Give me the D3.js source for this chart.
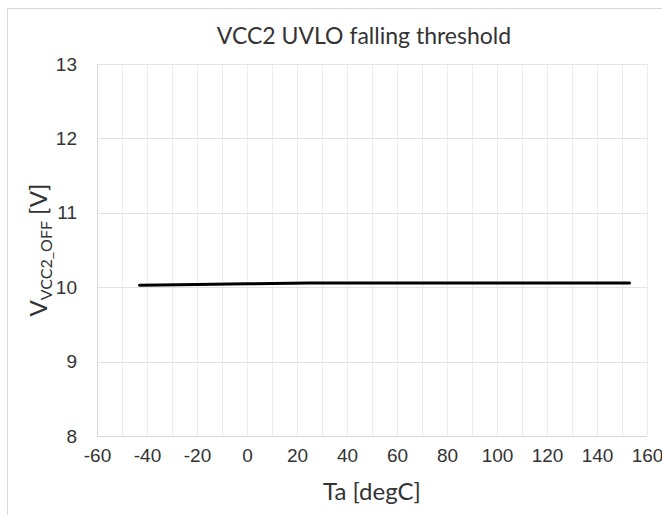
<!DOCTYPE html>
<html>
<head>
<meta charset="utf-8">
<script src="https://cdn.jsdelivr.net/npm/d3@7"></script>
<style>
  body { margin: 0; background: #fff; }
  svg { display: block; font-family: Lato, "Open Sans", sans-serif; }
</style>
</head>
<body>
<div id="chart"></div>
<script>
var temps = [-43, -20, 0, 25, 60, 100, 153];
var vOff = [10.025, 10.035, 10.045, 10.055, 10.055, 10.055, 10.055];
var xTicks = [-60, -40, -20, 0, 20, 40, 60, 80, 100, 120, 140, 160];
var xMinor = d3.range(-60, 161, 10);
var yTicks = [8, 9, 10, 11, 12, 13];

var width = 662, height = 515;
var margin = { top: 64, left: 97, right: 15, bottom: 79 };

var svg = d3.select("#chart").append("svg")
            .attr("width", width)
            .attr("height", height);

// outer chart border (runs off the picture on the right and bottom)
svg.append("rect")
   .attr("x", 7.5).attr("y", 8.5)
   .attr("width", 700).attr("height", 600)
   .attr("fill", "none")
   .attr("stroke", "#d9d9d9");

var x = d3.scaleLinear().domain([-60, 160]).range([margin.left, width - margin.right]);
var y = d3.scaleLinear().domain([8, 13]).range([height - margin.bottom, margin.top]);

var g = svg.append("g");

g.selectAll("line.vgrid")
  .data(xMinor)
  .enter().append("line")
  .attr("class", "vgrid")
  .attr("x1", d => Math.round(x(d)) + 0.5).attr("x2", d => Math.round(x(d)) + 0.5)
  .attr("y1", y(13)).attr("y2", y(8))
  .attr("stroke", "#ececec");

g.selectAll("line.hgrid")
  .data(yTicks)
  .enter().append("line")
  .attr("class", "hgrid")
  .attr("x1", x(-60)).attr("x2", x(160))
  .attr("y1", d => Math.round(y(d)) + 0.5).attr("y2", d => Math.round(y(d)) + 0.5)
  .attr("stroke", "#e3e3e3");

// axes lines
g.append("line")
  .attr("x1", x(-60)).attr("x2", x(160))
  .attr("y1", Math.round(y(8)) + 0.5).attr("y2", Math.round(y(8)) + 0.5)
  .attr("stroke", "#d9d9d9");
g.append("line")
  .attr("x1", Math.round(x(-60)) + 0.5).attr("x2", Math.round(x(-60)) + 0.5)
  .attr("y1", y(13)).attr("y2", y(8))
  .attr("stroke", "#d9d9d9");

var fmt = d => String(d);

var xAxis = d3.axisBottom(x).tickValues(xTicks).tickFormat(fmt).tickSize(0).tickPadding(13);
svg.append("g")
   .attr("transform", "translate(0," + y(8) + ")")
   .call(xAxis)
   .call(s => s.select(".domain").remove())
   .selectAll("text")
   .attr("fill", "#333")
   .style("font-size", "19px");

var yAxis = d3.axisLeft(y).tickValues(yTicks).tickFormat(fmt).tickSize(0).tickPadding(20);
svg.append("g")
   .attr("transform", "translate(" + x(-60) + ",0)")
   .call(yAxis)
   .call(s => s.select(".domain").remove())
   .selectAll("text")
   .attr("fill", "#333")
   .style("font-size", "19px");

var line = d3.line()
             .x((d, i) => x(temps[i]))
             .y(d => y(d));

svg.append("path")
   .datum(vOff)
   .attr("d", line)
   .attr("fill", "none")
   .attr("stroke", "#000")
   .attr("stroke-width", 3)
   .attr("stroke-linecap", "round")
   .attr("stroke-linejoin", "round");

svg.append("text")
   .attr("x", 364)
   .attr("y", 44)
   .attr("text-anchor", "middle")
   .attr("fill", "#333")
   .style("font-size", "23px")
   .text("VCC2 UVLO falling threshold");

svg.append("text")
   .attr("x", 372)
   .attr("y", 500)
   .attr("text-anchor", "middle")
   .attr("fill", "#333")
   .style("font-size", "24px")
   .text("Ta [degC]");

var yTitle = svg.append("text")
   .attr("transform", "translate(47," + ((y(8) + y(13)) / 2) + ") rotate(-90)")
   .attr("text-anchor", "middle")
   .attr("fill", "#333")
   .style("font-size", "24px");
yTitle.append("tspan").text("V");
yTitle.append("tspan").attr("dy", 5).style("font-size", "16px").text("VCC2_OFF");
yTitle.append("tspan").attr("dy", -5).text(" [V]");
</script>
</body>
</html>
